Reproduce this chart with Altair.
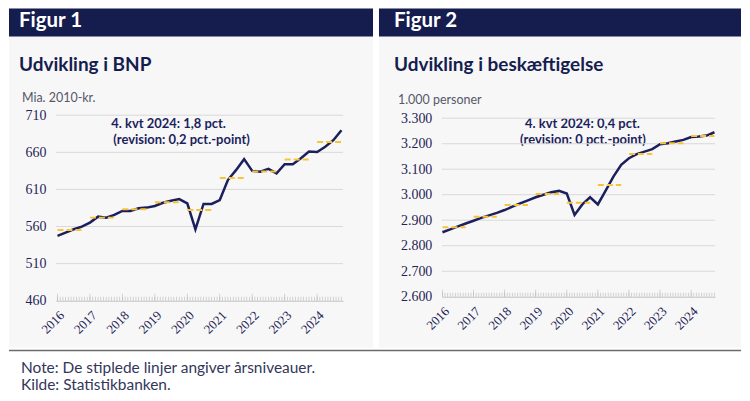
import altair as alt
import pandas as pd

years = [2016, 2017, 2018, 2019, 2020, 2021, 2022, 2023, 2024]

# BNP, quarterly (mia. 2010-kr.)
bnp = [547.5, 551.8, 556.3, 559.9,
       565.3, 573.3, 572.0, 575.6,
       581.0, 581.0, 584.6, 585.5,
       587.7, 592.0, 594.8, 597.0,
       591.3, 556.3, 590.4, 590.4,
       595.7, 622.6, 636.0, 650.8,
       635.0, 633.8, 637.8, 631.6,
       644.0, 644.0, 652.0, 661.0,
       660.5, 667.5, 676.4, 689.8]
bnp_annual = [555.4, 572.0, 583.2, 592.7, 582.3, 625.3, 634.3, 650.4, 674.0]
bnp_ticks = [460, 510, 560, 610, 660, 710]

# Beskaeftigelse, quarterly (1.000 personer)
emp = [2853, 2864, 2876, 2887,
       2898, 2909, 2919, 2929,
       2940, 2953, 2966, 2978,
       2990, 3000, 3010, 3015,
       3005, 2921, 2962, 2990,
       2962, 3016, 3071, 3117,
       3143, 3159, 3169, 3179,
       3198, 3202, 3209, 3215,
       3226, 3228, 3232, 3245]
emp_annual = [2872, 2914, 2960, 3003, 2969, 3038, 3160, 3202, 3230]
emp_ticks = [2600, 2700, 2800, 2900, 3000, 3100, 3200, 3300]

NAVY = "#151d4f"
LINE = "#1c1f5e"
YELLOW = "#f8c437"
PANEL_BG = "#f7f7f7"
LABEL = "#1f2456"
SERIF = "Liberation Serif"

tq = [y + q / 4 for y in years for q in range(4)]
months = [2016 + k / 12 for k in range(106)]
dummy = pd.DataFrame({"a": [1]})


def panel(fig, title, unit, ann1, ann2, vals, annual, ticks, ydom, xdom, W, H,
          box, hdr_y, title_y, unit_pos, ann_pos, label_expr):
    ysc = alt.Scale(domain=ydom, nice=False, zero=False)
    xsc = alt.Scale(domain=xdom, nice=False, zero=False)
    yax = alt.Axis(values=ticks, grid=False, domain=False, ticks=False,
                   labelFont=SERIF, labelFontSize=14,
                   labelColor=LABEL, labelPadding=10, title=None, zindex=1,
                   labelOverlap=False, labelExpr=label_expr)
    xax = alt.Axis(values=years, format="d", labelAngle=-45, grid=False,
                   ticks=False, domain=True, domainColor="#c4c4c4",
                   labelFont=SERIF, labelFontSize=13,
                   labelColor=LABEL, labelPadding=8, title=None, zindex=1,
                   labelOverlap=False)
    L, R, T, B = box

    bg = alt.Chart(dummy).mark_rect(color=PANEL_BG).encode(
        x=alt.value(L), x2=alt.value(R), y=alt.value(T), y2=alt.value(B))
    hdr = alt.Chart(dummy).mark_rect(color=NAVY).encode(
        x=alt.value(L), x2=alt.value(R), y=alt.value(T), y2=alt.value(T + 28))

    def txt(s, x, y, size, weight="normal", color=LABEL, align="left"):
        return alt.Chart(dummy).mark_text(
            text=s, font="Lato", fontSize=size, fontWeight=weight,
            color=color, align=align, baseline="alphabetic"
        ).encode(x=alt.value(x), y=alt.value(y))

    t_fig = txt(fig, title_y[0], hdr_y, 20.5, "bold", "white")
    t_title = txt(title, title_y[0], title_y[1], 19, "bold", NAVY)
    t_unit = txt(unit, unit_pos[0], unit_pos[1], 12.5, "normal", "#55576a")
    t_a1 = txt(ann1, ann_pos[0], ann_pos[1], 13, "bold", LINE, "center")
    t_a2 = txt(ann2, ann_pos[2], ann_pos[3], 13, "bold", LINE, "center")

    grid = alt.Chart(pd.DataFrame({"v": ticks[1:]})).mark_rule(
        color="#d9d9d9", strokeWidth=1).encode(
        y=alt.Y("v:Q", scale=ysc, axis=yax))

    minor = alt.Chart(pd.DataFrame({"m": months})).mark_tick(
        orient="vertical", size=4, thickness=0.8, color="#b5b5b5", yOffset=-2
    ).encode(x=alt.X("m:Q", scale=xsc, axis=xax),
             y=alt.YDatum(ticks[0], scale=ysc, axis=yax))
    major = alt.Chart(pd.DataFrame({"m": years})).mark_tick(
        orient="vertical", size=7, thickness=0.8, color="#b5b5b5", yOffset=-3.5
    ).encode(x=alt.X("m:Q", scale=xsc, axis=xax),
             y=alt.YDatum(ticks[0], scale=ysc, axis=yax))

    line = alt.Chart(pd.DataFrame({"t": tq, "v": vals})).mark_line(
        color=LINE, strokeWidth=2.5).encode(
        x=alt.X("t:Q", scale=xsc, axis=xax),
        y=alt.Y("v:Q", scale=ysc, axis=yax))

    dash = alt.Chart(pd.DataFrame({"x": years, "x2": [y + 0.75 for y in years],
                                   "v": annual})).mark_rule(
        color=YELLOW, strokeWidth=2, strokeDash=[6, 3]).encode(
        x=alt.X("x:Q", scale=xsc, axis=xax), x2="x2:Q",
        y=alt.Y("v:Q", scale=ysc, axis=yax))

    return alt.layer(bg, hdr, t_fig, t_title, t_unit, t_a1, t_a2,
                     grid, minor, major, line, dash).properties(width=W, height=H)


left = panel("Figur 1", "Udvikling i BNP", "Mia. 2010-kr.",
             "4. kvt 2024: 1,8 pct.", "(revision: 0,2 pct.-point)",
             bnp, bnp_annual, bnp_ticks, [460, 710], [2015.95, 2024.8], 288, 186,
             (-47, 318, -107, 233), -88, (-37, -44.5), (-34, -13.5),
             (113, 13, 126, 29), "format(datum.value, 'd')")

right = panel("Figur 2", "Udvikling i beskæftigelse", "1.000 personer",
              "4. kvt 2024: 0,4 pct.", "(revision: 0 pct.-point)",
              emp, emp_annual, emp_ticks, [2600, 3311.7], [2015.98, 2024.77], 274, 182,
              (-63, 300, -107, 233), -88, (-48, -44.5), (-44, -11),
              (141, 13, 141.5, 29), "replace(format(datum.value, ','), ',', '.')")

note_rule = alt.Chart(dummy).mark_rule(color="#6b6b6b", strokeWidth=1.5).encode(
    x=alt.value(-47), x2=alt.value(687), y=alt.value(3))
note1 = alt.Chart(dummy).mark_text(
    text="Note:  De stiplede linjer angiver årsniveauer.", font="Lato",
    fontSize=15.5, color="#33365a", align="left", baseline="alphabetic"
).encode(x=alt.value(-35), y=alt.value(25))
note2 = alt.Chart(dummy).mark_text(
    text="Kilde: Statistikbanken.", font="Lato",
    fontSize=15.5, color="#33365a", align="left", baseline="alphabetic"
).encode(x=alt.value(-35), y=alt.value(42.5))
note = alt.layer(note_rule, note1, note2).properties(width=600, height=40)

chart = alt.vconcat(
    alt.hconcat(left, right, spacing=6),
    note, spacing=0
).properties(padding=0, background="white").configure_view(
    strokeWidth=0
).configure_axis(labelFont=SERIF)

chart.save("out.html", embed_options={"renderer": "svg", "actions": False})
